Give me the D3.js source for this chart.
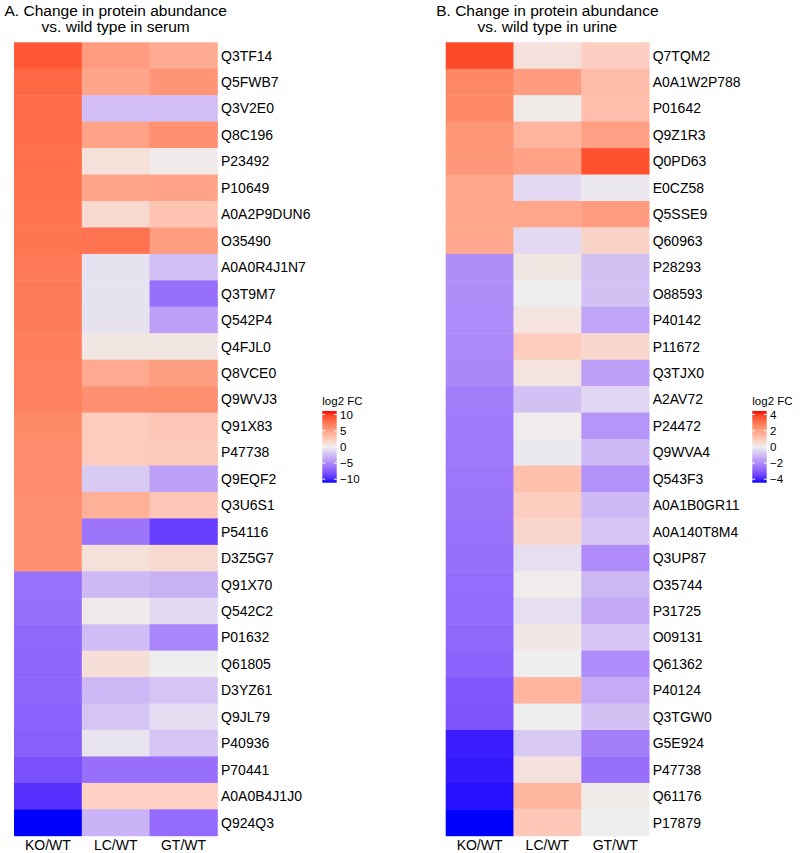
<!DOCTYPE html>
<html>
<head>
<meta charset="utf-8">
<script src="https://cdn.jsdelivr.net/npm/d3@7"></script>
<style>
  html, body { margin: 0; padding: 0; background: #ffffff; }
  svg { display: block; }
  text { font-family: "Liberation Sans", Arial, Helvetica, sans-serif; fill: #000; }
</style>
</head>
<body>
<svg id="chart" width="800" height="853"></svg>
<script>
// ---------- DATA ----------
const comparisons = ["KO/WT", "LC/WT", "GT/WT"];

// Panel A: serum
const serumProteins = ["Q3TF14","Q5FWB7","Q3V2E0","Q8C196","P23492","P10649","A0A2P9DUN6","O35490",
  "A0A0R4J1N7","Q3T9M7","Q542P4","Q4FJL0","Q8VCE0","Q9WVJ3","Q91X83","P47738","Q9EQF2","Q3U6S1",
  "P54116","D3Z5G7","Q91X70","Q542C2","P01632","Q61805","D3YZ61","Q9JL79","P40936","P70441",
  "A0A0B4J1J0","Q924Q3"];
const serumKO = [8.9, 8.1, 8.0, 7.9, 7.8, 7.7, 7.6, 7.5, 7.3, 7.2, 7.1, 7.0, 6.9, 6.8, 6.3, 6.2, 6.2, 6.1, 6.1, 6.0,
  -6.4, -6.5, -6.9, -7.0, -7.1, -7.2, -7.4, -8.1, -9.6, -11.1];
const serumLC = [5.3, 4.7, -2.4, 4.9, 0.9, 4.7, 1.4, 7.6, -0.6, -0.6, -0.6, 0.5, 4.4, 5.9, 2.2, 2.2, -1.8, 4.0,
  -6.2, 0.9, -2.7, 0.2, -2.5, 1.0, -2.8, -2.1, -0.5, -6.5, 2.0, -3.0];
const serumGT = [4.3, 5.7, -2.4, 6.0, 0.2, 4.9, 2.8, 5.2, -2.4, -6.5, -4.0, 0.5, 5.1, 6.1, 2.6, 2.4, -4.0, 2.6,
  -9.0, 1.4, -3.1, -1.0, -5.3, 0.0, -2.1, -0.9, -2.1, -6.5, 2.0, -6.7];

// Panel B: urine
const urineProteins = ["Q7TQM2","A0A1W2P788","P01642","Q9Z1R3","Q0PD63","E0CZ58","Q5SSE9","Q60963",
  "P28293","O88593","P40142","P11672","Q3TJX0","A2AV72","P24472","Q9WVA4","Q543F3","A0A1B0GR11",
  "A0A140T8M4","Q3UP87","O35744","P31725","O09131","Q61362","P40124","Q3TGW0","G5E924","P47738",
  "Q61176","P17879"];
const urineKO = [3.8, 2.6, 2.55, 2.25, 2.2, 1.85, 1.82, 1.8,
  -1.95, -1.97, -2.0, -2.05, -2.1, -2.3, -2.35, -2.4, -2.45, -2.5, -2.55, -2.6, -2.65, -2.7, -2.75, -2.85,
  -3.1, -3.15, -4.15, -4.2, -4.3, -4.43];
const urineLC = [0.35, 2.1, 0.1, 1.5, 1.95, -0.4, 1.85, -0.4, 0.2, 0.0, 0.3, 0.9, 0.3, -0.9, 0.05, -0.1, 1.2, 0.85,
  0.65, -0.3, 0.05, -0.3, 0.15, 0.0, 1.5, 0.0, -0.75, 0.35, 1.45, 1.0];
const urineGT = [0.8, 1.3, 1.25, 2.0, 3.7, -0.1, 2.1, 0.7, -0.9, -0.9, -1.5, 0.6, -1.6, -0.5, -1.8, -1.1, -1.9, -1.05,
  -0.8, -2.0, -1.1, -1.4, -0.85, -2.0, -1.35, -0.9, -2.3, -2.6, 0.1, 0.0];

const serumTicks = [10, 5, 0, -5, -10];
const urineTicks = [4, 2, 0, -2, -4];

// ---------- DRAW ----------
const svg = d3.select("#chart");
const rowTop = 42.3, rowBottom = 835.8, hmWidth = 203.4;

function panel(opts) {
  const { x0, proteins, cols, ticks, titleLines, legendX } = opts;
  const g = svg.append("g");
  const m = d3.max(cols.flat(), v => Math.abs(v));
  const color = d3.scaleLinear().domain([-m, 0, m]).range(["blue", "#EEEEEE", "red"]).interpolate(d3.interpolateLab);

  const xBand = d3.scaleBand().domain(comparisons).range([x0, x0 + hmWidth]);
  const yBand = d3.scaleBand().domain(proteins).range([rowTop, rowBottom]);

  const cells = [];
  proteins.forEach((p, i) => comparisons.forEach((c, j) => cells.push({ p, c, v: cols[j][i] })));

  g.selectAll("rect.cell").data(cells).join("rect")
    .attr("class", "cell")
    .attr("x", d => xBand(d.c))
    .attr("y", d => yBand(d.p))
    .attr("width", xBand.bandwidth() + 0.4)
    .attr("height", yBand.bandwidth() + 0.4)
    .attr("fill", d => color(d.v));

  // row labels
  g.selectAll("text.row").data(proteins).join("text")
    .attr("class", "row")
    .attr("x", x0 + hmWidth + 3.6)
    .attr("y", d => yBand(d) + yBand.bandwidth() / 2)
    .attr("dy", "0.36em")
    .attr("font-size", 14)
    .text(d => d);

  // column labels
  g.selectAll("text.col").data(comparisons).join("text")
    .attr("class", "col")
    .attr("x", d => xBand(d) + xBand.bandwidth() / 2)
    .attr("y", 850)
    .attr("text-anchor", "middle")
    .attr("font-size", 14)
    .text(d => d);

  // title
  g.selectAll("text.title").data(titleLines).join("text")
    .attr("class", "title")
    .attr("x", x0 + hmWidth / 2)
    .attr("y", (d, i) => 16 + i * 16)
    .attr("text-anchor", "middle")
    .attr("font-size", 15.5)
    .text(d => d);

  // legend
  const lg = svg.append("g");
  const barTop = 411, barBottom = 482.7, barW = 14.4;
  const ly = d3.scaleLinear().domain([m, -m]).range([barTop, barBottom]);
  const gradId = "grad" + Math.round(x0);
  const grad = svg.append("defs").append("linearGradient")
    .attr("id", gradId).attr("x1", 0).attr("x2", 0).attr("y1", 0).attr("y2", 1);
  d3.range(0, 1.0001, 0.05).forEach(t => {
    grad.append("stop").attr("offset", t).attr("stop-color", color(m - 2 * m * t));
  });
  lg.append("rect")
    .attr("x", legendX).attr("y", barTop)
    .attr("width", barW).attr("height", barBottom - barTop)
    .attr("fill", `url(#${gradId})`);
  lg.selectAll("line.tl").data(ticks).join("line")
    .attr("x1", legendX).attr("x2", legendX + 2.8)
    .attr("y1", d => ly(d)).attr("y2", d => ly(d))
    .attr("stroke", "white").attr("stroke-width", 1);
  lg.selectAll("line.tr").data(ticks).join("line")
    .attr("x1", legendX + barW - 2.8).attr("x2", legendX + barW)
    .attr("y1", d => ly(d)).attr("y2", d => ly(d))
    .attr("stroke", "white").attr("stroke-width", 1);
  lg.selectAll("text.tick").data(ticks).join("text")
    .attr("x", legendX + barW + 3.4)
    .attr("y", d => ly(d))
    .attr("dy", "0.36em")
    .attr("font-size", 11.5)
    .text(d => d < 0 ? "\u2212" + Math.abs(d) : String(d));
  lg.append("text")
    .attr("x", legendX)
    .attr("y", 405)
    .attr("font-size", 11.5)
    .text("log2 FC");
}

panel({
  x0: 14, proteins: serumProteins, cols: [serumKO, serumLC, serumGT], ticks: serumTicks,
  titleLines: ["A. Change in protein abundance", "vs. wild type in serum"], legendX: 322.3
});
panel({
  x0: 445.7, proteins: urineProteins, cols: [urineKO, urineLC, urineGT], ticks: urineTicks,
  titleLines: ["B. Change in protein abundance", "vs. wild type in urine"], legendX: 752.3
});
</script>
</body>
</html>
